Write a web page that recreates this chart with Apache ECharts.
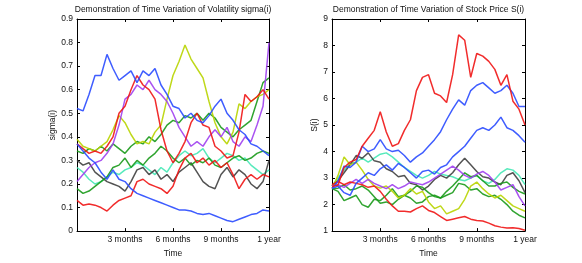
<!DOCTYPE html>
<html><head><meta charset="utf-8">
<script src="https://cdn.jsdelivr.net/npm/echarts@6/dist/echarts.min.js"></script>
<style>html,body{margin:0;padding:0;background:#fff}#c{width:582px;height:263px}</style>
</head><body><div id="c"></div>
<script>
// sample times in months
const months = [0,0.375,0.75,1.125,1.5,1.875,2.25,2.625,3,3.375,3.75,4.125,4.5,4.875,5.25,5.625,6,6.375,6.75,7.125,7.5,7.875,8.25,8.625,9,9.375,9.75,10.125,10.5,10.875,11.25,11.625,12];
const xTickLabels = {0:'', 3:'3 months', 6:'6 months', 9:'9 months', 12:'1 year'};
const titleLeft = 'Demonstration of Time Variation of Volatility sigma(i)';
const titleRight = 'Demonstration of Time Variation of Stock Price S(i)';

// volatility sigma(i)
const sigBlueA = [0.52,0.51,0.58,0.66,0.66,0.75,0.69,0.64,0.66,0.68,0.63,0.68,0.66,0.69,0.62,0.58,0.53,0.52,0.48,0.50,0.47,0.46,0.49,0.53,0.56,0.50,0.47,0.43,0.41,0.37,0.36,0.34,0.32];
const sigBlueB = [0.37,0.34,0.31,0.29,0.25,0.22,0.26,0.22,0.21,0.18,0.16,0.15,0.14,0.13,0.12,0.11,0.10,0.09,0.09,0.085,0.075,0.07,0.075,0.065,0.055,0.045,0.04,0.05,0.06,0.07,0.075,0.09,0.085];
const sigRedH = [0.37,0.35,0.33,0.34,0.33,0.36,0.40,0.50,0.53,0.60,0.66,0.62,0.60,0.56,0.43,0.34,0.29,0.33,0.38,0.46,0.50,0.45,0.44,0.36,0.34,0.31,0.32,0.42,0.58,0.55,0.57,0.60,0.56];
const sigRedL = [0.13,0.11,0.115,0.11,0.10,0.085,0.11,0.13,0.14,0.15,0.21,0.22,0.20,0.19,0.18,0.16,0.19,0.26,0.31,0.33,0.29,0.31,0.28,0.30,0.27,0.29,0.24,0.18,0.22,0.24,0.22,0.24,0.23];
const sigGreenU = [0.34,0.33,0.35,0.34,0.36,0.34,0.37,0.35,0.33,0.36,0.38,0.37,0.40,0.38,0.41,0.45,0.47,0.46,0.49,0.48,0.50,0.47,0.50,0.48,0.44,0.42,0.40,0.43,0.45,0.47,0.55,0.63,0.65];
const sigGreenL = [0.18,0.16,0.17,0.19,0.21,0.23,0.27,0.28,0.31,0.27,0.30,0.28,0.31,0.33,0.36,0.34,0.31,0.29,0.31,0.28,0.30,0.29,0.31,0.28,0.27,0.29,0.31,0.32,0.30,0.31,0.33,0.34,0.33];
const sigLime = [0.39,0.36,0.35,0.34,0.36,0.38,0.43,0.49,0.46,0.41,0.37,0.38,0.37,0.42,0.45,0.56,0.66,0.72,0.79,0.73,0.69,0.65,0.55,0.46,0.40,0.37,0.42,0.54,0.52,0.55,0.57,0.58,0.60];
const sigPurple = [0.21,0.24,0.27,0.29,0.30,0.33,0.37,0.45,0.56,0.58,0.62,0.60,0.64,0.60,0.58,0.55,0.50,0.44,0.40,0.36,0.38,0.36,0.40,0.43,0.40,0.44,0.38,0.36,0.40,0.38,0.45,0.53,0.80];
const sigBlack = [0.30,0.28,0.29,0.25,0.23,0.21,0.20,0.19,0.17,0.21,0.26,0.27,0.24,0.26,0.22,0.24,0.21,0.25,0.27,0.29,0.25,0.21,0.19,0.18,0.24,0.27,0.23,0.26,0.24,0.20,0.18,0.21,0.30];
const sigAqua = [0.27,0.25,0.22,0.20,0.21,0.23,0.25,0.24,0.26,0.27,0.29,0.28,0.26,0.24,0.27,0.25,0.29,0.32,0.34,0.32,0.33,0.35,0.31,0.29,0.31,0.33,0.32,0.30,0.31,0.28,0.26,0.24,0.26];

// stock price S(i)
const sRedH = [2.68,2.74,3.4,3.6,3.7,4.2,4.5,4.8,5.5,4.74,4.2,4.3,4.8,5.2,6.3,6.8,6.9,6.2,6.1,5.85,6.9,8.4,8.2,6.8,7.7,7.6,7.4,7.1,6.5,6.9,5.9,5.6,5.0];
const sBlueH = [2.62,2.87,3.45,3.4,3.6,4.2,4.0,4.1,4.45,4.1,4.0,4.05,3.85,3.6,3.8,3.95,4.2,4.45,4.75,5.2,5.6,5.95,5.75,6.3,6.5,6.6,6.4,6.2,6.3,6.5,6.2,5.7,5.7];
const sBlueM = [2.6,2.7,2.45,2.35,2.8,3.0,3.2,3.1,3.35,3.5,3.3,3.55,3.4,3.2,3.0,3.25,3.3,3.15,3.4,3.5,3.8,4.0,4.2,4.5,4.8,4.9,4.8,5.0,5.3,4.9,4.8,4.6,4.35];
const sBlack = [2.7,2.9,3.2,3.5,3.85,3.75,3.95,3.65,3.6,3.35,3.25,3.05,3.1,2.8,2.75,2.55,2.7,2.95,3.1,3.0,3.2,3.5,3.75,3.5,3.25,3.05,3.0,2.85,2.75,3.1,3.2,2.9,2.45];
const sAqua = [2.7,3.0,3.3,3.55,3.6,3.75,3.6,3.75,3.9,3.95,3.8,3.6,3.4,3.25,3.1,3.0,3.1,3.25,3.15,3.1,3.05,2.95,2.9,3.0,3.1,2.9,2.8,2.95,3.2,3.35,3.3,3.1,2.75];
const sPurple = [2.7,2.75,2.65,2.8,2.95,2.8,2.95,2.8,2.7,2.6,2.75,2.6,2.7,2.85,2.8,2.75,2.85,3.0,3.15,3.3,3.45,3.3,3.1,3.0,3.15,3.25,3.1,2.85,2.55,2.65,2.75,2.3,1.95];
const sLime = [2.6,3.1,3.8,3.5,3.6,3.3,2.95,2.7,2.62,2.7,2.5,2.25,2.35,2.6,2.4,2.5,2.1,1.85,1.95,1.65,1.75,1.85,2.2,2.7,2.85,2.6,2.4,2.25,2.35,2.15,1.95,1.85,1.75];
const sGreen1 = [2.6,2.5,2.15,2.25,2.35,2.0,1.9,2.2,2.15,2.35,2.6,2.3,2.35,2.5,2.7,2.65,2.45,2.3,2.25,2.5,2.7,2.95,3.2,3.05,3.1,2.9,2.7,2.7,2.8,2.85,2.65,2.5,2.4];
const sGreen2 = [2.6,2.62,2.75,2.55,2.6,2.7,2.55,2.3,2.05,2.1,2.0,2.2,2.35,2.25,2.05,2.1,2.3,2.35,2.25,2.35,2.45,2.8,2.75,2.55,2.6,2.4,2.3,2.35,2.2,2.0,1.75,1.6,1.5];
const sRedL = [2.75,2.87,2.75,2.85,2.8,2.75,2.65,2.7,2.5,2.2,1.95,1.75,1.75,1.72,1.85,1.95,1.78,1.7,1.55,1.4,1.45,1.5,1.55,1.45,1.4,1.38,1.3,1.2,1.15,1.12,1.13,1.1,1.03];

const C = {blue:'#2a4bff', red:'#f01515', green:'#1a9a1a', lime:'#b8d400', purple:'#a040f0', black:'#404040', aqua:'#45e8b5'};
const leftSet = [[sigAqua,C.aqua],[sigBlack,C.black],[sigGreenL,C.green],[sigGreenU,C.green],[sigLime,C.lime],[sigPurple,C.purple],[sigRedL,C.red],[sigRedH,C.red],[sigBlueB,C.blue],[sigBlueA,C.blue]];
const rightSet = [[sAqua,C.aqua],[sBlack,C.black],[sGreen1,C.green],[sGreen2,C.green],[sLime,C.lime],[sPurple,C.purple],[sRedL,C.red],[sBlueM,C.blue],[sBlueH,C.blue],[sRedH,C.red]];

const FONT = 'Liberation Sans';
const FS = 8.5;
const txt = {color:'#111', fontSize:FS, fontFamily:FONT};

function xAx(gi, pos, main){
  return {type:'value', gridIndex:gi, position:pos, min:0, max:12, interval:3,
    axisLine:{show:true, onZero:false, lineStyle:{color:'#000', width:1}},
    axisTick:{show:true, inside:true, length:3, lineStyle:{color:'#000'}},
    axisLabel:{show:main, formatter:v=>xTickLabels[v] ?? '', margin:4, ...txt, showMinLabel:true, showMaxLabel:true},
    splitLine:{show:false},
    name: main ? 'Time' : '', nameLocation:'middle', nameGap:12, nameTextStyle:txt};
}
function yAx(gi, pos, main, min, max, interval, name, gap){
  return {type:'value', gridIndex:gi, position:pos, min:min, max:max, interval:interval,
    axisLine:{show:true, onZero:false, lineStyle:{color:'#000', width:1}},
    axisTick:{show:true, inside:true, length:3, lineStyle:{color:'#000'}},
    axisLabel:{show:main, margin:4, ...txt},
    splitLine:{show:false},
    name: main ? name : '', nameLocation:'middle', nameGap:gap, nameTextStyle:txt};
}

const series = [];
leftSet.forEach(([d,col])=>series.push({type:'line', xAxisIndex:0, yAxisIndex:0, data:months.map((m,i)=>[m,d[i]]), showSymbol:false, symbol:'none', lineStyle:{color:col, width:1.5, opacity:0.9}, itemStyle:{color:col}, animation:false}));
rightSet.forEach(([d,col])=>series.push({type:'line', xAxisIndex:2, yAxisIndex:2, data:months.map((m,i)=>[m,d[i]]), showSymbol:false, symbol:'none', lineStyle:{color:col, width:1.5, opacity:0.9}, itemStyle:{color:col}, animation:false}));

const chart = echarts.init(document.getElementById('c'), null, {renderer:'canvas'});
chart.setOption({
  backgroundColor:'#fff',
  animation:false,
  grid:[{left:77, top:19, width:192, height:214},{left:332, top:19, width:193, height:214}],
  xAxis:[xAx(0,'bottom',true), xAx(0,'top',false), xAx(1,'bottom',true), xAx(1,'top',false)],
  yAxis:[yAx(0,'left',true,0,0.9,0.1,'sigma(i)',16), yAx(0,'right',false,0,0.9,0.1,'',0),
         yAx(1,'left',true,1,9,1,'S(i)',10), yAx(1,'right',false,1,9,1,'',0)],
  graphic:[
    {type:'text', x:173, y:10, style:{text:titleLeft, align:'center', verticalAlign:'middle', textAlign:'center', textVerticalAlign:'middle', fontSize:FS, fontFamily:FONT, fill:'#111'}},
    {type:'text', x:428.5, y:10, style:{text:titleRight, align:'center', verticalAlign:'middle', textAlign:'center', textVerticalAlign:'middle', fontSize:FS, fontFamily:FONT, fill:'#111'}}
  ],
  series: series
});
</script></body></html>
